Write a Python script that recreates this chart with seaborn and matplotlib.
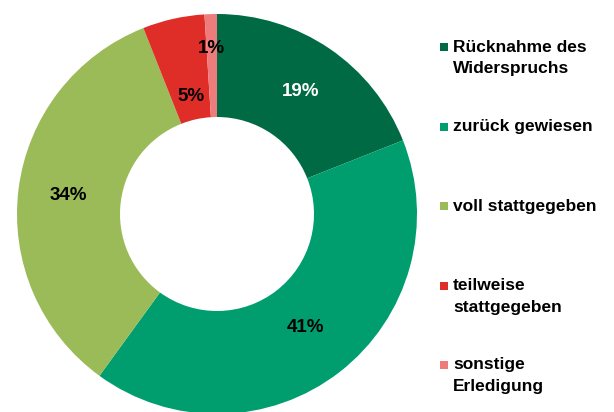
import numpy as np
import matplotlib
matplotlib.use("Agg")
import matplotlib.pyplot as plt
import seaborn as sns
from matplotlib.patches import Rectangle

# data
categories = ["Rücknahme des\nWiderspruchs", "zurück gewiesen", "voll stattgegeben",
              "teilweise\nstattgegeben", "sonstige\nErledigung"]
shares = [19, 41, 34, 5, 1]
pct_labels = ["19%", "41%", "34%", "5%", "1%"]

colors = ["#006A45", "#009E6E", "#9BBB59", "#DF2E27", "#EE7C7C"]
label_colors = ["white", "black", "black", "black", "black"]
label_radius = [0.74, 0.72, 0.75, 0.60, 0.83]

sns.set_style("white")
plt.rcParams["font.family"] = ["Liberation Sans", "DejaVu Sans"]

fig = plt.figure(figsize=(6.14, 4.12), dpi=100, facecolor="white")
W, H = 614, 412
# donut centre ~ (217, 214) px, outer radius ~200 px
cx, cy, r = 217, 214, 200
ax = fig.add_axes([(cx - r) / W, (H - cy - r) / H, 2 * r / W, 2 * r / H])

wedges, _ = ax.pie(shares, colors=colors, startangle=90, counterclock=False,
                   radius=1, wedgeprops=dict(width=0.515, edgecolor="none"))
ax.set_xlim(-1, 1)
ax.set_ylim(-1, 1)
ax.set_aspect("equal")
ax.axis("off")

# percentage labels placed at the wedge mid angle
for w, txt, col, rr in zip(wedges, pct_labels, label_colors, label_radius):
    ang = np.deg2rad((w.theta1 + w.theta2) / 2)
    ax.text(rr * np.cos(ang), rr * np.sin(ang), txt, ha="center", va="center",
            fontsize=13.5, fontweight="bold", color=col)

# legend drawn by hand (first lines evenly spaced)
y0, dy, line_h = 47, 79.5, 22
for i, (lab, col) in enumerate(zip(categories, colors)):
    y = y0 + i * dy
    fig.patches.append(Rectangle((440 / W, (H - y - 4) / H), 8 / W, 8 / H,
                                 transform=fig.transFigure, facecolor=col,
                                 edgecolor="none"))
    for k, line in enumerate(lab.split("\n")):
        fig.text(453 / W, (H - y - k * line_h) / H, line, ha="left", va="center",
                 fontsize=12.5, fontweight="bold", color="black")

fig.savefig("out.png", dpi=100, facecolor="white")
